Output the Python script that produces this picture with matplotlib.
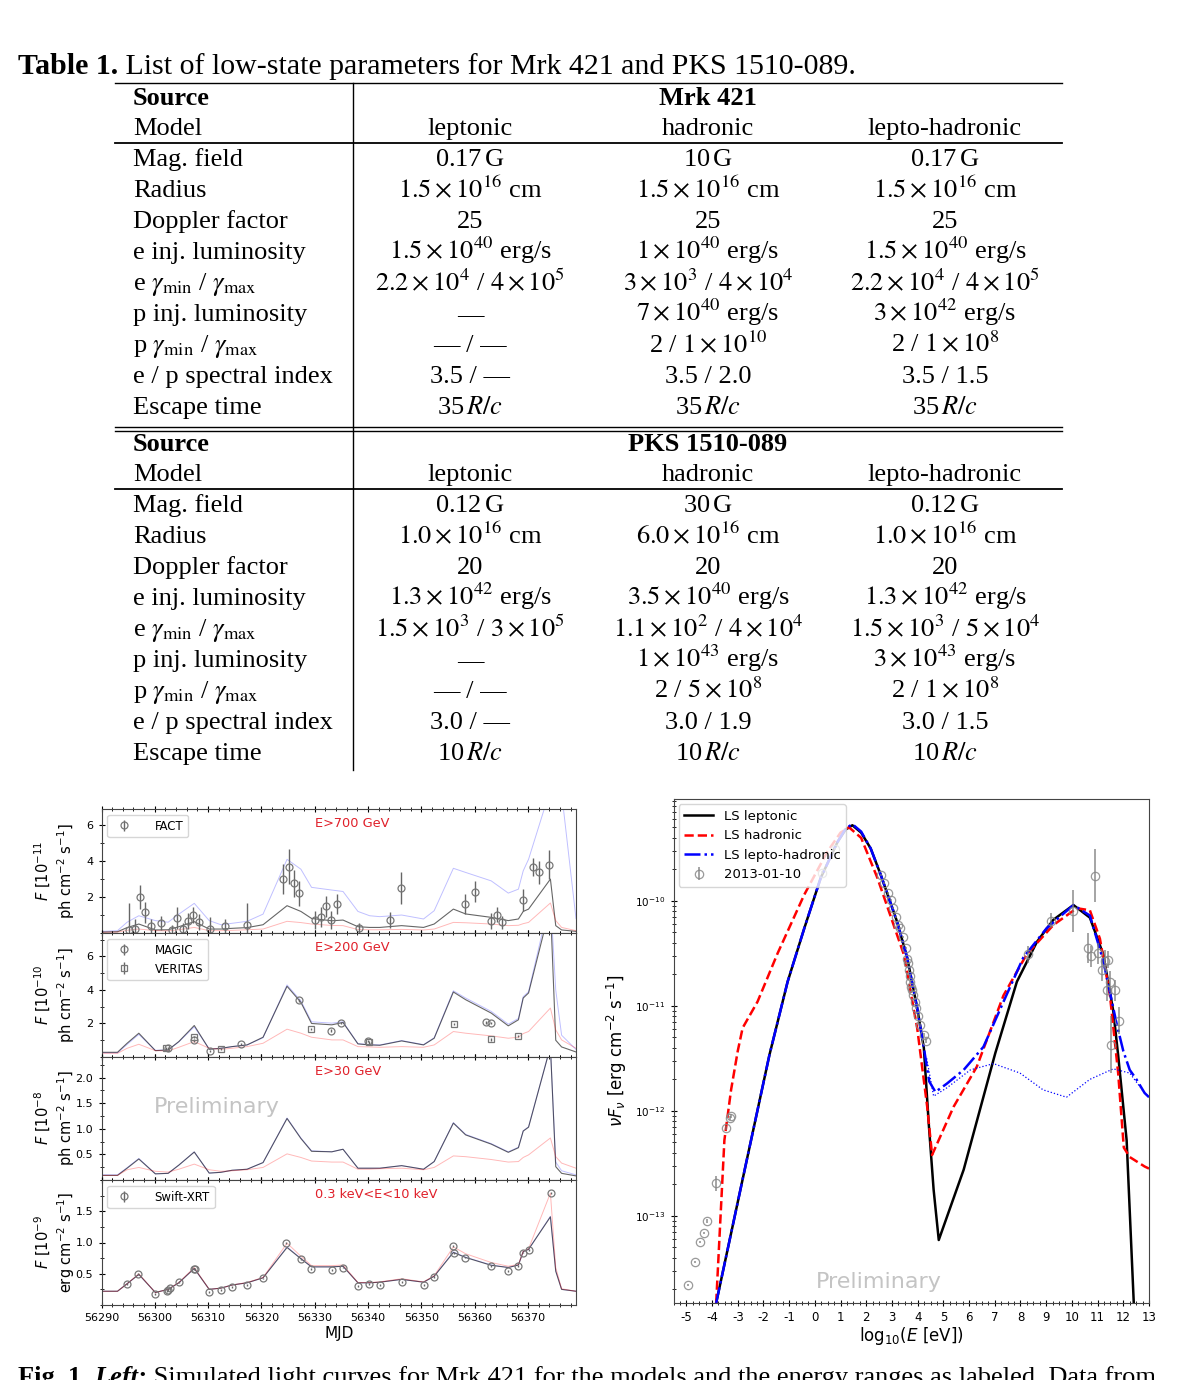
import matplotlib
matplotlib.use("Agg")
import matplotlib.pyplot as plt
from matplotlib.lines import Line2D
from matplotlib.ticker import MultipleLocator, FixedLocator, LogLocator, NullFormatter
import numpy as np

plt.rcParams['axes.unicode_minus'] = False

W, H = 1203, 1380
SERIF = 'Liberation Serif'
TFS = 19  # table font size (pt)

# ---------------- table data ----------------
TABLE_TITLE = " List of low-state parameters for Mrk 421 and PKS 1510-089."
MODELS = ["leptonic", "hadronic", "lepto-hadronic"]
ROW_NAMES = ["Mag. field", "Radius", "Doppler factor", "e inj. luminosity",
             r"e $\gamma_{\mathrm{min}}$ / $\gamma_{\mathrm{max}}$", "p inj. luminosity",
             r"p $\gamma_{\mathrm{min}}$ / $\gamma_{\mathrm{max}}$", "e / p spectral index",
             "Escape time"]
MRK421_ROWS = [
    [r"0.17$\,$G", r"10$\,$G", r"0.17$\,$G"],
    [r"$1.5\times10^{16}$ cm", r"$1.5\times10^{16}$ cm", r"$1.5\times10^{16}$ cm"],
    ["25", "25", "25"],
    [r"$1.5\times10^{40}$ erg/s", r"$1\times10^{40}$ erg/s", r"$1.5\times10^{40}$ erg/s"],
    [r"$2.2\times10^{4}$ / $4\times10^{5}$", r"$3\times10^{3}$ / $4\times10^{4}$",
     r"$2.2\times10^{4}$ / $4\times10^{5}$"],
    ["\u2014", r"$7\times10^{40}$ erg/s", r"$3\times10^{42}$ erg/s"],
    ["\u2014 / \u2014", r"2 / $1\times10^{10}$", r"2 / $1\times10^{8}$"],
    ["3.5 / \u2014", "3.5 / 2.0", "3.5 / 1.5"],
    [r"35$\,R/c$", r"35$\,R/c$", r"35$\,R/c$"],
]
PKS_ROWS = [
    [r"0.12$\,$G", r"30$\,$G", r"0.12$\,$G"],
    [r"$1.0\times10^{16}$ cm", r"$6.0\times10^{16}$ cm", r"$1.0\times10^{16}$ cm"],
    ["20", "20", "20"],
    [r"$1.3\times10^{42}$ erg/s", r"$3.5\times10^{40}$ erg/s", r"$1.3\times10^{42}$ erg/s"],
    [r"$1.5\times10^{3}$ / $3\times10^{5}$", r"$1.1\times10^{2}$ / $4\times10^{4}$",
     r"$1.5\times10^{3}$ / $5\times10^{4}$"],
    ["\u2014", r"$1\times10^{43}$ erg/s", r"$3\times10^{43}$ erg/s"],
    ["\u2014 / \u2014", r"2 / $5\times10^{8}$", r"2 / $1\times10^{8}$"],
    ["3.0 / \u2014", "3.0 / 1.9", "3.0 / 1.5"],
    [r"10$\,R/c$", r"10$\,R/c$", r"10$\,R/c$"],
]

# ---------------- light curves (Mrk 421) ----------------
T_NODES = [56290.0, 56293.0, 56294.8, 56297.0, 56300.1, 56302.5, 56304.5, 56307.4, 56310.2, 56312.4,
           56314.5, 56317.3, 56320.3, 56324.8, 56327.4, 56329.4, 56333.2, 56335.3, 56338.1, 56340.3,
           56342.2, 56346.3, 56350.4, 56352.4, 56356.0, 56358.3, 56363.1, 56366.3, 56368.2, 56369.1,
           56370.1, 56374.2, 56375.2, 56376.3, 56379.0]

VHE700_LEP = [0.05, 0.07, 0.30, 0.50, 0.17, 0.18, 0.35, 0.63, 0.22, 0.22,
              0.26, 0.30, 0.46, 1.52, 1.20, 0.81, 0.68, 0.72, 0.35, 0.31,
              0.31, 0.41, 0.31, 0.50, 1.33, 1.06, 0.87, 0.69, 0.78, 1.20,
              1.33, 3.00, 0.41, 0.17, 0.09]
VHE700_HAD = [0.04, 0.05, 0.15, 0.22, 0.13, 0.12, 0.18, 0.31, 0.13, 0.13,
              0.15, 0.18, 0.22, 0.65, 0.58, 0.50, 0.42, 0.41, 0.19, 0.18,
              0.18, 0.20, 0.17, 0.22, 0.59, 0.57, 0.50, 0.41, 0.43, 0.52,
              0.59, 1.67, 0.69, 0.31, 0.13]
VHE700_LH = [0.09, 0.13, 0.60, 0.96, 0.69, 0.60, 1.05, 1.65, 0.69, 0.46,
             0.54, 0.65, 1.05, 4.10, 3.55, 2.54, 2.39, 2.31, 1.20, 0.96,
             0.91, 1.00, 0.78, 1.24, 3.60, 3.37, 2.90, 2.22, 2.44, 3.46,
             4.10, 8.00, 8.50, 7.80, 0.80]

VHE200_LEP = [0.28, 0.28, 0.82, 1.42, 0.38, 0.42, 0.92, 1.88, 0.46, 0.52,
              0.62, 0.72, 1.18, 4.22, 3.26, 2.00, 1.92, 2.06, 0.78, 0.72,
              0.70, 0.96, 0.72, 1.12, 3.88, 3.42, 2.62, 1.86, 2.22, 3.52,
              3.82, 9.00, 1.00, 0.60, 0.30]
VHE200_HAD = [0.22, 0.22, 0.52, 0.76, 0.38, 0.36, 0.58, 0.92, 0.52, 0.46,
              0.52, 0.62, 0.82, 1.66, 1.42, 1.18, 1.02, 1.02, 0.62, 0.60,
              0.58, 0.62, 0.58, 0.72, 1.52, 1.42, 1.26, 1.12, 1.18, 1.40,
              1.52, 2.92, 1.62, 1.02, 0.52]
VHE200_LH = [0.25, 0.25, 0.75, 1.35, 0.40, 0.42, 0.90, 1.80, 0.48, 0.52,
             0.62, 0.72, 1.15, 4.30, 3.35, 2.10, 2.02, 2.10, 0.80, 0.74,
             0.72, 0.98, 0.74, 1.15, 3.95, 3.52, 2.72, 1.96, 2.30, 3.60,
             3.90, 9.50, 4.00, 1.30, 0.45]

HE30_LEP = [0.09, 0.09, 0.23, 0.41, 0.12, 0.13, 0.29, 0.545, 0.135, 0.15,
            0.19, 0.21, 0.34, 1.20, 0.81, 0.56, 0.55, 0.60, 0.23, 0.23,
            0.23, 0.28, 0.21, 0.36, 1.11, 0.88, 0.70, 0.54, 0.63, 0.955,
            1.03, 2.60, 0.26, 0.13, 0.08]
HE30_HAD = [0.09, 0.09, 0.20, 0.245, 0.17, 0.155, 0.21, 0.31, 0.20, 0.17,
            0.18, 0.20, 0.245, 0.51, 0.44, 0.37, 0.35, 0.35, 0.21, 0.21,
            0.22, 0.23, 0.20, 0.245, 0.47, 0.455, 0.40, 0.35, 0.36, 0.44,
            0.49, 0.82, 0.455, 0.33, 0.23]
HE30_LH = [0.10, 0.10, 0.24, 0.42, 0.12, 0.13, 0.29, 0.55, 0.135, 0.15,
           0.19, 0.21, 0.34, 1.21, 0.82, 0.57, 0.55, 0.60, 0.23, 0.23,
           0.23, 0.28, 0.21, 0.36, 1.12, 0.89, 0.71, 0.55, 0.64, 0.96,
           1.04, 2.60, 0.35, 0.18, 0.10]

XR_LEP = [0.22, 0.22, 0.34, 0.49, 0.20, 0.25, 0.355, 0.585, 0.25, 0.27,
          0.32, 0.355, 0.435, 0.92, 0.74, 0.61, 0.61, 0.62, 0.355, 0.355,
          0.365, 0.41, 0.365, 0.46, 0.84, 0.76, 0.635, 0.60, 0.64, 0.855,
          0.89, 1.41, 0.54, 0.25, 0.22]
XR_HAD = [0.22, 0.22, 0.34, 0.50, 0.20, 0.25, 0.36, 0.60, 0.25, 0.27,
          0.32, 0.36, 0.44, 0.99, 0.78, 0.63, 0.63, 0.64, 0.36, 0.36,
          0.37, 0.42, 0.37, 0.47, 0.93, 0.82, 0.68, 0.62, 0.65, 0.86,
          0.90, 1.79, 0.60, 0.26, 0.22]
XR_LH = [0.22, 0.22, 0.34, 0.49, 0.20, 0.25, 0.355, 0.585, 0.25, 0.27,
         0.32, 0.355, 0.435, 0.93, 0.745, 0.61, 0.61, 0.62, 0.355, 0.355,
         0.365, 0.41, 0.365, 0.46, 0.85, 0.765, 0.64, 0.60, 0.64, 0.855,
         0.89, 1.42, 0.55, 0.25, 0.22]

FACT_T = [56295.2, 56296.2, 56297.25, 56298.25, 56299.25, 56301.25, 56303.25, 56304.25, 56305.2, 56306.25,
          56307.25, 56308.25, 56310.3, 56313.25, 56317.2, 56324.1, 56325.1, 56326.1, 56327.1, 56330.1,
          56331.1, 56332.1, 56333.1, 56334.2, 56338.25, 56344.1, 56346.1, 56358.1, 56360.0, 56363.1,
          56364.1, 56365.1, 56369.1, 56371.0, 56372.1, 56373.9]
FACT_F = [0.15, 0.2, 2.0, 1.15, 0.4, 0.55, 0.15, 0.83, 0.2, 0.65,
          1.02, 0.6, 0.2, 0.37, 0.46, 3.0, 3.7, 2.76, 2.22, 0.72,
          0.87, 1.48, 0.72, 1.6, 0.28, 0.72, 2.5, 1.6, 2.3, 0.69,
          1.02, 0.6, 1.85, 3.65, 3.37, 3.8]
FACT_E = [1.5, 0.6, 0.65, 0.6, 0.4, 0.4, 0.3, 0.6, 0.35, 0.45,
          0.45, 0.45, 0.7, 0.4, 1.2, 0.85, 1.0, 0.75, 0.7, 0.5,
          0.55, 0.6, 0.5, 0.55, 0.3, 0.45, 0.9, 0.55, 0.58, 0.45,
          0.4, 0.37, 0.6, 0.5, 0.63, 0.8]

MAGIC_T = [56302.4, 56307.3, 56310.3, 56316.25, 56327.1, 56333.1, 56335.0, 56340.0, 56362.1, 56363.0]
MAGIC_F = [0.52, 1.0, 0.36, 0.78, 3.38, 1.58, 2.02, 0.96, 2.06, 2.02]
VERITAS_T = [56302.1, 56307.3, 56312.4, 56329.25, 56340.2, 56356.1, 56363.1, 56368.1]
VERITAS_F = [0.52, 1.2, 0.48, 1.68, 0.88, 1.96, 1.06, 1.26]

XRT_T = [56294.8, 56296.9, 56300.1, 56302.2, 56302.5, 56302.8, 56304.5, 56307.3, 56307.5, 56310.2,
         56312.4, 56314.5, 56317.3, 56320.3, 56324.6, 56327.4, 56329.25, 56333.2, 56335.25, 56338.1,
         56340.25, 56342.2, 56346.3, 56350.4, 56352.4, 56355.9, 56356.1, 56358.25, 56363.1, 56366.25,
         56368.2, 56369.1, 56370.1, 56374.25]
XRT_F = [0.34, 0.49, 0.18, 0.22, 0.24, 0.27, 0.37, 0.57, 0.58, 0.215,
         0.237, 0.29, 0.32, 0.425, 0.99, 0.74, 0.57, 0.56, 0.60, 0.30,
         0.33, 0.32, 0.37, 0.32, 0.45, 0.94, 0.83, 0.76, 0.62, 0.55,
         0.62, 0.84, 0.88, 1.79]

# ---------------- SED (log10 E [eV], log10 nuFnu) ----------------
SED_LEP_X = [-3.84, -2.80, -1.77, -1.06, -0.41, 0.23, 0.88, 1.20, 1.46, 1.80,
             2.17, 2.56, 3.20, 3.59, 3.98, 4.24, 4.43, 4.62, 4.82, 5.79,
             7.02, 7.86, 8.64, 9.28, 10.06, 10.70, 11.22, 11.61, 11.80, 12.13, 12.42]
SED_LEP_LOGY = [-13.83, -12.64, -11.47, -10.77, -10.26, -9.78, -9.44, -9.32, -9.28, -9.35,
                -9.50, -9.75, -10.20, -10.54, -11.02, -11.40, -12.12, -12.75, -13.23, -12.56,
                -11.45, -10.77, -10.39, -10.18, -10.04, -10.16, -10.51, -11.05, -11.47, -12.28, -13.90]
SED_HAD_X = [-3.84, -3.52, -3.26, -3.00, -2.81, -2.23, -1.45, -0.41, 0.49, 1.00,
             1.33, 1.80, 2.43, 3.46, 3.98, 4.37, 4.56, 5.40, 6.30, 7.34,
             8.24, 9.28, 10.19, 10.70, 11.09, 11.48, 11.80, 12.02, 12.25, 12.83, 13.00]
SED_HAD_LOGY = [-13.83, -12.28, -11.80, -11.43, -11.21, -10.96, -10.50, -9.94, -9.53, -9.35,
                -9.30, -9.40, -9.78, -10.51, -11.21, -11.96, -12.42, -11.96, -11.58, -10.90,
                -10.51, -10.23, -10.07, -10.09, -10.36, -10.90, -11.64, -12.35, -12.44, -12.53, -12.55]
SED_LH_X = [-3.84, -2.80, -1.77, -1.06, -0.41, 0.23, 0.88, 1.20, 1.46, 1.80,
            2.17, 2.56, 3.20, 3.59, 3.98, 4.24, 4.45, 4.69, 5.14, 5.79,
            6.56, 7.34, 8.11, 9.02, 10.06, 10.70, 11.22, 11.74, 12.00, 12.25,
            12.51, 12.83, 13.00]
SED_LH_LOGY = [-13.83, -12.64, -11.47, -10.77, -10.26, -9.78, -9.44, -9.31, -9.27, -9.34,
               -9.50, -9.75, -10.20, -10.54, -11.02, -11.40, -11.72, -11.82, -11.74, -11.61,
               -11.39, -10.96, -10.54, -10.26, -10.04, -10.14, -10.57, -11.17, -11.43, -11.61,
               -11.70, -11.83, -11.87]
SED_LHP_X = [4.35, 4.62, 5.14, 6.05, 6.95, 7.98, 8.88, 9.79, 10.70, 11.61, 12.25, 12.83, 13.00]
SED_LHP_LOGY = [-11.50, -11.86, -11.78, -11.61, -11.55, -11.64, -11.80, -11.87, -11.70, -11.60,
                -11.64, -11.83, -11.87]

RADIO_X = [-4.93, -4.68, -4.45, -4.33, -4.20, -3.86, -3.45, -3.30, -3.26, 0.27, 0.80]
RADIO_LOGY = [-13.66, -13.44, -13.25, -13.16, -13.05, -12.69, -12.16, -12.07, -12.05, -9.73, -9.51]
RADIO_ERR = [0.01, 0.01, 0.01, 0.01, 0.02, 0.07, 0.02, 0.02, 0.02, 0.01, 0.01]
XRAY_X = [2.56, 2.69, 2.84, 2.95, 3.05, 3.14, 3.24, 3.33, 3.44, 3.53,
          3.59, 3.62, 3.66, 3.70, 3.72, 3.75, 3.79, 3.82, 3.88, 3.93,
          4.00, 4.08, 4.24, 4.34]
XRAY_LOGY = [-9.75, -9.83, -9.93, -9.99, -10.07, -10.15, -10.23, -10.26, -10.34, -10.45,
             -10.55, -10.59, -10.66, -10.72, -10.77, -10.82, -10.85, -10.90, -10.96, -11.02,
             -11.10, -11.18, -11.28, -11.33]
XRAY_ERR = [0.01, 0.01, 0.01, 0.01, 0.01, 0.01, 0.01, 0.01, 0.01, 0.01,
            0.01, 0.01, 0.01, 0.01, 0.01, 0.01, 0.01, 0.01, 0.01, 0.01,
            0.02, 0.02, 0.02, 0.02]
GAMMA_X = [8.31, 9.19, 10.06, 10.61, 10.76, 10.90, 11.02, 11.19, 11.28, 11.35,
           11.41, 11.50, 11.54, 11.67, 11.83]
GAMMA_LOGY = [-10.51, -10.19, -10.10, -10.45, -10.53, -9.76, -10.50, -10.66, -10.57, -10.85,
              -10.56, -10.77, -11.37, -10.85, -11.14]
GAMMA_ERR = [0.08, 0.07, 0.20, 0.14, 0.10, 0.25, 0.10, 0.10, 0.10, 0.10,
             0.08, 0.10, 0.27, 0.10, 0.13]

CAPTION = " Simulated light curves for Mrk 421 for the models and the energy ranges as labeled. Data from"

# ---------------------------------------------------------------
fig = plt.figure(figsize=(W / 100, H / 100), dpi=100)
renderer = fig.canvas.get_renderer()


def fx(px):
    return px / W


def fy(py):
    return 1 - py / H


def hline(x0, x1, y, lw=1.0):
    fig.add_artist(Line2D([fx(x0), fx(x1)], [fy(y), fy(y)], transform=fig.transFigure,
                          color='k', lw=lw))


def ttext(x, y, s, ha='left', weight='normal', style='normal', size=TFS):
    return fig.text(fx(x), fy(y), s, ha=ha, va='baseline', fontsize=size, family=SERIF,
                    weight=weight, style=style, math_fontfamily='stix')


def runs(x, y, parts, size=TFS):
    # draw text pieces one after the other
    for s, weight, style in parts:
        t = ttext(x, y, s, weight=weight, style=style, size=size)
        x += t.get_window_extent(renderer).width


# ---- table ----
runs(18, 74, [("Table 1.", 'bold', 'normal'), (TABLE_TITLE, 'normal', 'normal')], size=21.5)

COL_X = [470, 708, 945]
ROW_STEP = 31
for src, rows, y0 in [("Mrk 421", MRK421_ROWS, 105), ("PKS 1510-089", PKS_ROWS, 451)]:
    ttext(133, y0, "Source", weight='bold')
    ttext(COL_X[1], y0, src, ha='center', weight='bold')
    ttext(133, y0 + 30, "Model")
    for cx, m in zip(COL_X, MODELS):
        ttext(cx, y0 + 30, m, ha='center')
    for i, (name, vals) in enumerate(zip(ROW_NAMES, rows)):
        yy = y0 + 61 + i * ROW_STEP
        ttext(133, yy, name)
        for cx, v in zip(COL_X, vals):
            ttext(cx, yy, v, ha='center')

hline(115, 1062, 83)
hline(115, 1062, 142.5, lw=1.3)
hline(115, 1062, 427)
hline(115, 1062, 431)
hline(115, 1062, 489, lw=1.3)
fig.add_artist(Line2D([fx(353), fx(353)], [fy(83), fy(770)], transform=fig.transFigure,
                      color='k', lw=1.0))

# ---- light curves ----
LC_LEFT, LC_RIGHT = 101.5, 576
LC_EDGES = [809, 933, 1057, 1180, 1305]
PANELS = [
    dict(lep=VHE700_LEP, had=VHE700_HAD, lh=VHE700_LH, ylim=(0, 6.9), major=[2, 4, 6], minor=1,
         ylab="$F$ [10$^{-11}$\nph cm$^{-2}$ s$^{-1}$]", band="E>700 GeV"),
    dict(lep=VHE200_LEP, had=VHE200_HAD, lh=VHE200_LH, ylim=(0, 7.4), major=[2, 4, 6], minor=1,
         ylab="$F$ [10$^{-10}$\nph cm$^{-2}$ s$^{-1}$]", band="E>200 GeV"),
    dict(lep=HE30_LEP, had=HE30_HAD, lh=HE30_LH, ylim=(0, 2.4), major=[0.5, 1.0, 1.5, 2.0], minor=0.25,
         ylab="$F$ [10$^{-8}$\nph cm$^{-2}$ s$^{-1}$]", band="E>30 GeV"),
    dict(lep=XR_LEP, had=XR_HAD, lh=XR_LH, ylim=(0, 2.0), major=[0.5, 1.0, 1.5], minor=0.25,
         ylab="$F$ [10$^{-9}$\nerg cm$^{-2}$ s$^{-1}$]", band="0.3 keV<E<10 keV"),
]
PT = dict(ms=5, mfc='none', mec='#777777', mew=0.9, ecolor='#666666', elinewidth=1.0,
          color='#777777', linestyle='none')

lc_axes = []
for i, p in enumerate(PANELS):
    top, bot = LC_EDGES[i], LC_EDGES[i + 1]
    ax = fig.add_axes([fx(LC_LEFT), fy(bot), (LC_RIGHT - LC_LEFT) / W, (bot - top) / H])
    ax.plot(T_NODES, p['lh'], color='blue', lw=0.7, alpha=0.25)
    ax.plot(T_NODES, p['lep'], color='k', lw=0.8, alpha=0.6)
    ax.plot(T_NODES, p['had'], color='red', lw=0.7, alpha=0.28)
    ax.set_xlim(56290, 56379)
    ax.set_ylim(*p['ylim'])
    ax.yaxis.set_major_locator(FixedLocator(p['major']))
    ax.yaxis.set_minor_locator(MultipleLocator(p['minor']))
    ax.xaxis.set_major_locator(MultipleLocator(10))
    ax.xaxis.set_minor_locator(MultipleLocator(2))
    ax.tick_params(which='both', direction='inout', top=True, labelsize=8)
    ax.tick_params(which='major', length=5)
    ax.tick_params(which='minor', length=3)
    ax.set_ylabel(p['ylab'], fontsize=10.5, linespacing=1.1)
    ax.yaxis.set_label_coords(-0.052, 0.5)
    ax.text(0.45, 0.88, p['band'], transform=ax.transAxes, color='#e0202a', fontsize=9.3,
            va='center', ha='left')
    if i < 3:
        ax.tick_params(labelbottom=False)
    for s in ax.spines.values():
        s.set_color('#444444')
    lc_axes.append(ax)

ax1, ax2, ax3, ax4 = lc_axes
ax1.errorbar(FACT_T, FACT_F, yerr=FACT_E, marker='o', label='FACT', **PT)
ax1.legend(loc='upper left', fontsize=8.5, handletextpad=1.6, borderaxespad=0.5)
ax2.errorbar(MAGIC_T, MAGIC_F, yerr=0.08, marker='o', label='MAGIC', **PT)
ax2.errorbar(VERITAS_T, VERITAS_F, yerr=0.08, marker='s', label='VERITAS', **PT)
ax2.legend(loc='upper left', fontsize=8.5, handletextpad=1.6, borderaxespad=0.5)
ax3.text(0.243, 0.593, "Preliminary", transform=ax3.transAxes, fontsize=16, color='#c4c4c4',
         ha='center', va='center')
ax4.errorbar(XRT_T, XRT_F, yerr=0.015, marker='o', label='Swift-XRT', **PT)
ax4.legend(loc='upper left', fontsize=8.5, handletextpad=1.6, borderaxespad=0.5)
ax4.set_xlabel("MJD", fontsize=11)
ax4.xaxis.set_label_coords(0.5, -0.17)

# ---- SED ----
sx0, sx1, sy0, sy1 = 673.5, 1149, 799, 1303
ax = fig.add_axes([fx(sx0), fy(sy1), (sx1 - sx0) / W, (sy1 - sy0) / H])
ax.set_yscale('log')
ax.plot(SED_LEP_X, 10 ** np.array(SED_LEP_LOGY), color='k', lw=1.8, label='LS leptonic')
ax.plot(SED_HAD_X, 10 ** np.array(SED_HAD_LOGY), color='red', ls='--', lw=1.8, label='LS hadronic')
ax.plot(SED_LH_X, 10 ** np.array(SED_LH_LOGY), color='blue', ls='-.', lw=1.8,
        label='LS lepto-hadronic')
ax.plot(SED_LHP_X, 10 ** np.array(SED_LHP_LOGY), color='blue', ls=':', lw=0.9)

px = np.concatenate([RADIO_X, XRAY_X, GAMMA_X])
ly = np.concatenate([RADIO_LOGY, XRAY_LOGY, GAMMA_LOGY])
le = np.concatenate([RADIO_ERR, XRAY_ERR, GAMMA_ERR])
yv = 10 ** ly
yerr = [yv - 10 ** (ly - le), 10 ** (ly + le) - yv]
ax.errorbar(px, yv, yerr=yerr, marker='o', ms=6, mfc='none', mec='#888888', mew=0.9,
            ecolor='#777777', elinewidth=1.1, color='#888888', linestyle='none',
            label='2013-01-10', alpha=0.85)

ax.set_xlim(-5.5, 13)
ax.set_ylim(10 ** -13.83, 10 ** -9.03)
ax.xaxis.set_major_locator(FixedLocator(list(range(-5, 14))))
ax.xaxis.set_minor_locator(MultipleLocator(0.25))
ax.set_xticklabels([str(v) for v in range(-5, 14)])
ax.yaxis.set_major_locator(LogLocator(base=10))
ax.yaxis.set_minor_locator(LogLocator(base=10, subs=np.arange(2, 10)))
ax.yaxis.set_minor_formatter(NullFormatter())
ax.tick_params(which='both', direction='inout')
ax.tick_params(axis='x', labelsize=8.5)
ax.tick_params(axis='y', labelsize=7.5)
ax.tick_params(which='major', length=5)
ax.tick_params(which='minor', length=3)
for s in ax.spines.values():
    s.set_color('#444444')
ax.set_ylabel(r"$\nu F_\nu$ [erg cm$^{-2}$ s$^{-1}$]", fontsize=12)
ax.yaxis.set_label_coords(-0.094, 0.5)
ax.set_xlabel(r"log$_{10}$($E$ [eV])", fontsize=12)
ax.xaxis.set_label_coords(0.5, -0.044)
ax.text(2.5, 10 ** -13.63, "Preliminary", fontsize=16, color='#c4c4c4', ha='center', va='center')
ax.legend(loc='upper left', fontsize=9.5, handlelength=2.2, borderaxespad=0.4)

# ---- figure caption (cut at the bottom edge, as in the page) ----
runs(18, 1384, [("Fig. 1.", 'bold', 'normal'), (" ", 'normal', 'normal'),
                ("Left:", 'bold', 'italic'), (CAPTION, 'normal', 'normal')])

fig.savefig("out.png", dpi=100)
